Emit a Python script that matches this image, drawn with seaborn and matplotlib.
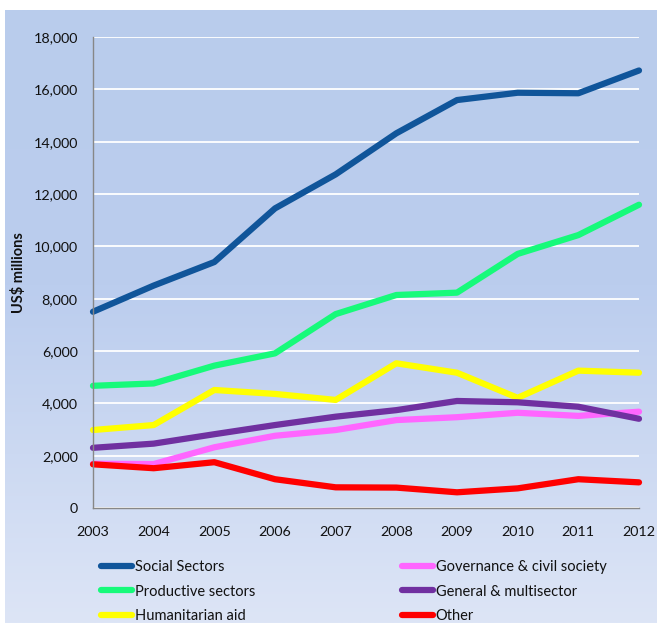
import numpy as np
import pandas as pd
import matplotlib
matplotlib.use("Agg")
import matplotlib.pyplot as plt
from matplotlib.colors import LinearSegmentedColormap
from matplotlib.ticker import FuncFormatter
import seaborn as sns

# Aid disbursements by sector, US$ millions
years = [2003, 2004, 2005, 2006, 2007, 2008, 2009, 2010, 2011, 2012]
social_sectors = [7500, 8500, 9400, 11450, 12750, 14320, 15590, 15870, 15850, 16720]
productive_sectors = [4670, 4760, 5440, 5910, 7410, 8140, 8230, 9710, 10430, 11590]
humanitarian_aid = [2980, 3170, 4510, 4360, 4130, 5530, 5170, 4210, 5250, 5170]
governance_civil = [1690, 1680, 2320, 2760, 2980, 3360, 3470, 3640, 3520, 3680]
general_multisector = [2300, 2460, 2820, 3170, 3490, 3740, 4090, 4040, 3870, 3410]
other = [1670, 1520, 1750, 1100, 790, 780, 600, 750, 1100, 980]

series_names = ["Social Sectors", "Productive sectors", "Humanitarian aid",
                "Governance & civil society", "General & multisector", "Other"]
series_values = [social_sectors, productive_sectors, humanitarian_aid,
                 governance_civil, general_multisector, other]
series_colors = ["#10559A", "#17FA7A", "#FFFF00", "#FF66FF", "#7030A0", "#FF0000"]

df = pd.concat(
    [pd.DataFrame({"Year": years, "Value": vals, "Sector": name})
     for name, vals in zip(series_names, series_values)],
    ignore_index=True,
)

sns.set_style("white")
plt.rcParams["font.family"] = ["Lato", "DejaVu Sans"]

fig = plt.figure(figsize=(6.58, 6.23), dpi=100, facecolor="white")

# Panel background: flat blue at the top fading lighter toward the bottom
bg = fig.add_axes([5 / 658, 0, 652 / 658, 613 / 623], zorder=-5)
bg.set_axis_off()
cmap = LinearSegmentedColormap.from_list(
    "panel", [(0.0, "#B9CCEC"), (0.45, "#BBCDEE"), (1.0, "#DDE5F6")])
grad = np.linspace(0, 1, 256).reshape(-1, 1)
bg.imshow(grad, aspect="auto", cmap=cmap, extent=[0, 1, 0, 1], origin="upper")

ax = fig.add_axes([93 / 658, 1 - 508 / 623, (639 - 93) / 658, (508 - 37) / 623])
ax.set_facecolor("none")

sns.lineplot(data=df, x="Year", y="Value", hue="Sector", hue_order=series_names,
             palette=series_colors, linewidth=4.5, ax=ax, legend=False)
for line in ax.get_lines():
    line.set_solid_capstyle("round")
    line.set_clip_on(False)

ax.set_xlim(2003, 2012)
ax.set_ylim(0, 18000)
ax.set_xticks(years)
ax.set_yticks(np.arange(0, 18001, 2000))
ax.yaxis.set_major_formatter(FuncFormatter(lambda v, p: f"{v:,.0f}"))
ax.grid(axis="y", color="white", linewidth=1.3)
ax.grid(axis="x", visible=False)
ax.set_axisbelow(True)

for s in ["top", "right"]:
    ax.spines[s].set_visible(False)
for s in ["left", "bottom"]:
    ax.spines[s].set_color("#878787")
    ax.spines[s].set_linewidth(1.0)

ax.tick_params(axis="both", which="major", direction="out", length=4,
               width=1, color="#878787", labelsize=10.3, labelcolor="#111111")
ax.tick_params(axis="y", pad=7)
ax.tick_params(axis="x", pad=9)

ax.set_xlabel("")
ax.set_ylabel("US$ millions", fontsize=10.5, fontweight="bold", color="#111111",
              labelpad=5)

handles = ax.get_lines()[:6]
leg_kw = dict(frameon=False, fontsize=10.5, handlelength=2.15, handletextpad=0.15,
              labelspacing=0.72, borderpad=0, borderaxespad=0, loc="upper left")
leg1 = fig.legend(handles[:3], series_names[:3],
                  bbox_to_anchor=(101 / 658, 1 - 560 / 623), **leg_kw)
leg2 = fig.legend(handles[3:], series_names[3:],
                  bbox_to_anchor=(402 / 658, 1 - 560 / 623), **leg_kw)
for leg in (leg1, leg2):
    for t in leg.get_texts():
        t.set_color("#111111")

fig.savefig("out.png", dpi=100, facecolor="white")
